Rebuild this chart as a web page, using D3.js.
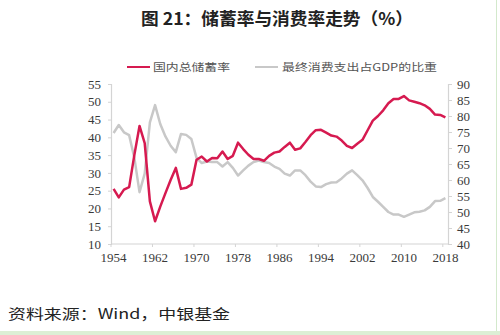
<!DOCTYPE html>
<html>
<head>
<meta charset="utf-8">
<script src="https://cdn.jsdelivr.net/npm/d3@7"></script>
<style>
html,body{margin:0;padding:0;background:#fff;}
svg{display:block;}
.num text{font-family:"Liberation Serif","DejaVu Serif",serif !important;}
</style>
</head>
<body>
<svg id="chart" width="500" height="335"></svg>
<script>
const years = d3.range(1954, 2019);
const savingRate = [
  25.5,23.1,25.3,26.0,35.0,43.2,38.4,22.0,16.4,20.5,
  24.3,28.0,31.4,25.5,25.8,26.7,33.7,34.6,33.2,34.2,
  34.1,36.0,33.9,34.8,38.5,36.7,35.1,33.9,33.9,33.4,
  34.8,35.7,36.0,37.3,38.5,36.5,36.9,38.7,40.6,42.0,
  42.1,41.3,40.5,40.2,39.1,37.6,37.0,38.2,39.3,42.0,
  44.7,46.0,47.6,49.6,50.8,50.8,51.6,50.4,50.0,49.6,
  49.0,48.0,46.4,46.3,45.6
];
const consumptionShare = [
  74.7,77.2,74.9,74.0,67.0,56.2,62.0,78.0,83.4,77.5,
  73.6,70.7,68.7,74.4,74.1,72.8,66.9,65.3,65.8,65.6,
  65.6,64.2,65.6,63.8,61.4,63.0,64.5,65.6,66.1,65.6,
  65.3,64.2,63.5,62.0,61.4,63.0,63.0,61.5,59.5,58.0,
  57.8,58.7,59.2,59.3,60.5,62.0,63.0,61.5,59.9,57.5,
  54.7,53.2,51.6,50.0,49.2,49.2,48.5,49.2,49.9,50.1,
  50.5,51.6,53.4,53.5,54.3
];
const leftTicks = [10,15,20,25,30,35,40,45,50,55];
const rightTicks = [40,45,50,55,60,65,70,75,80,85,90];
const yearLabels = [1954,1962,1970,1978,1986,1994,2002,2010,2018];
const titleText = "图 21：储蓄率与消费率走势（%）";
const seriesNames = ["国内总储蓄率", "最终消费支出占GDP的比重"];
const sourceText = "资料来源：Wind，中银基金";

const svg = d3.select("#chart");
const L = 111, R = 448, T = 84, B = 244;
const red = "#d61a50", grey = "#c8c8c8", axisCol = "#d4d4d4", txt = "#3a3a3a";

const x = d3.scaleBand().domain(years).range([L, R]).padding(0);
const xc = d => x(d) + x.bandwidth() / 2;
const yL = d3.scaleLinear().domain([10, 55]).range([B, T]);
const yR = d3.scaleLinear().domain([40, 90]).range([B, T]);

// frame decorations
svg.append("rect").attr("x",0).attr("y",331).attr("width",500).attr("height",4).attr("fill","#dcefd5");
svg.append("line").attr("x1",496.5).attr("x2",496.5).attr("y1",0).attr("y2",331).attr("stroke","#d3e9cc").attr("stroke-width",1);

// title
svg.append("text").attr("x",277).attr("y",25).attr("text-anchor","middle")
  .attr("font-family","'Noto Sans CJK SC', sans-serif").attr("font-weight","700")
  .attr("font-size",17).attr("fill","#222").attr("textLength",272).attr("lengthAdjust","spacingAndGlyphs")
  .text(titleText);

// legend
const lg = svg.append("g");
lg.append("line").attr("x1",127).attr("x2",150).attr("y1",67).attr("y2",67).attr("stroke",red).attr("stroke-width",2);
lg.append("text").attr("x",153).attr("y",71).attr("font-family","'Noto Sans CJK SC', sans-serif")
  .attr("font-size",10.5).attr("fill","#555").attr("textLength",77).attr("lengthAdjust","spacingAndGlyphs").text(seriesNames[0]);
lg.append("line").attr("x1",255).attr("x2",278).attr("y1",67).attr("y2",67).attr("stroke",grey).attr("stroke-width",2);
lg.append("text").attr("x",282).attr("y",71).attr("font-family","'Noto Sans CJK SC', sans-serif")
  .attr("font-size",10.5).attr("fill","#555").attr("textLength",155).attr("lengthAdjust","spacingAndGlyphs").text(seriesNames[1]);

// axes
const font = "'Liberation Serif', 'DejaVu Serif', serif";
const leftAxis = d3.axisLeft(yL).tickValues(leftTicks).tickSize(3).tickPadding(7);
const gL = svg.append("g").attr("class","num").attr("transform",`translate(${L},0)`).call(leftAxis);
const rightAxis = d3.axisRight(yR).tickValues(rightTicks).tickSize(4).tickPadding(5);
const gR = svg.append("g").attr("class","num").attr("transform",`translate(${R},0)`).call(rightAxis);
const bottomAxis = d3.axisBottom(x).tickValues(yearLabels).tickSize(0).tickPadding(9);
const gB = svg.append("g").attr("class","num").attr("transform",`translate(0,${B})`).call(bottomAxis);
[gL,gR,gB].forEach(g=>{
  g.attr("font-family",font).attr("font-size",13);
  g.select(".domain").attr("stroke",axisCol).attr("stroke-width",1.2);
  g.selectAll(".tick line").attr("stroke",axisCol);
  g.selectAll(".tick text").attr("font-family",font).attr("font-size",13).attr("fill",txt);
});
gB.select(".domain").attr("d",`M${L},0H${R}`);
// category boundary tick marks every 8 years
svg.append("g").selectAll("line").data(yearLabels).join("line")
  .attr("x1",d=>x(d)).attr("x2",d=>x(d)).attr("y1",B).attr("y2",B+3)
  .attr("stroke",axisCol);

// lines
const lineL = d3.line().x((d,i)=>xc(years[i])).y(d=>yL(d));
const lineR = d3.line().x((d,i)=>xc(years[i])).y(d=>yR(d));
svg.append("path").datum(consumptionShare).attr("d",lineR).attr("fill","none")
  .attr("stroke",grey).attr("stroke-width",2.5).attr("stroke-linejoin","round");
svg.append("path").datum(savingRate).attr("d",lineL).attr("fill","none")
  .attr("stroke",red).attr("stroke-width",2.5).attr("stroke-linejoin","round");

// source
svg.append("text").attr("x",8).attr("y",319).attr("font-family","'Noto Sans CJK SC', serif")
  .attr("font-size",14).attr("fill","#222").attr("textLength",222).attr("lengthAdjust","spacingAndGlyphs")
  .text(sourceText);
</script>
</body>
</html>
